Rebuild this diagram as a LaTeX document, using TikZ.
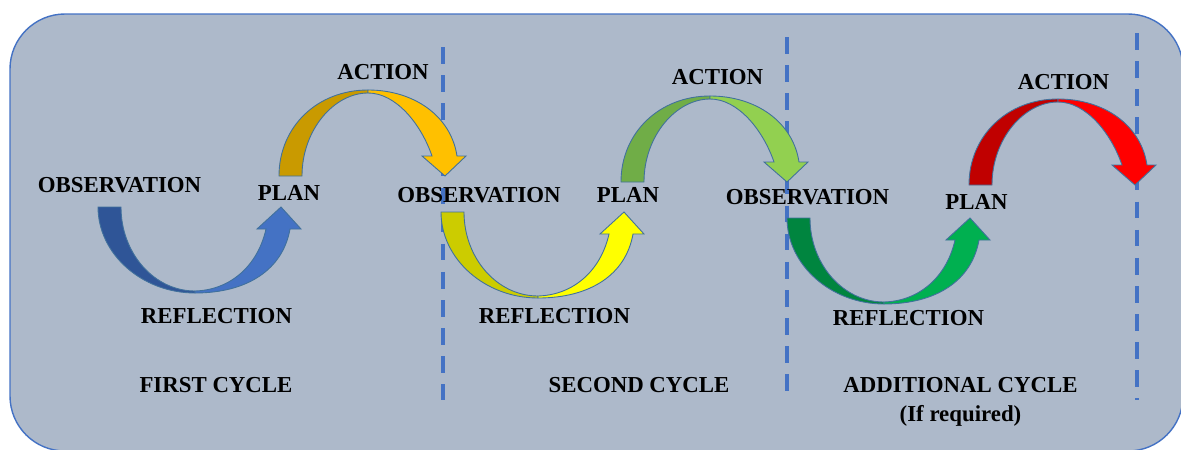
\documentclass[tikz,border=0pt]{standalone}
\usepackage{fontspec}
\setmainfont{Liberation Serif}
\usepackage{xcolor}
\usepackage{tikz}
\usetikzlibrary{positioning}

\definecolor{panel}{HTML}{ADB9CA}
\definecolor{rimblue}{HTML}{4472C4}
\definecolor{arrowedge}{HTML}{41719C}
\definecolor{blueD}{HTML}{2F5597}
\definecolor{blueL}{HTML}{4472C4}
\definecolor{orangeD}{HTML}{C99A00}
\definecolor{orangeL}{HTML}{FFC000}
\definecolor{yellowD}{HTML}{CCCC00}
\definecolor{yellowL}{HTML}{FFFF00}
\definecolor{lgreenD}{HTML}{70AD47}
\definecolor{lgreenL}{HTML}{92D050}
\definecolor{greenD}{HTML}{00853F}
\definecolor{greenL}{HTML}{00B050}
\definecolor{redD}{HTML}{C00000}
\definecolor{redL}{HTML}{FF0000}

\begin{document}
\begin{tikzpicture}[
    x=0.02cm, y=-0.02cm,
    lbl/.style={font=\bfseries\fontsize{13}{15}\selectfont, inner sep=1pt},
    rim/.style={draw=rimblue, line width=0.8pt, fill=panel, rounded corners=1.1cm},
    divider/.style={draw=rimblue, line width=2.1pt, dash pattern=on 9.5pt off 6.5pt},
    arrline/.style={draw=arrowedge, line width=0.5pt},
    pics/lowarrow/.style 2 args={code={
        \filldraw[fill=#1, arrline] (0,0) .. controls (0,47) and (44,86) .. (97,86) -- (97,84) .. controls (56,84) and (23,46) .. (23,0) -- cycle;
        \filldraw[fill=#2, arrline] (97,86) .. controls (150,86) and (185,62) .. (192,22) -- (203,22) -- (183,0) -- (159,22) -- (168,22) .. controls (160,58) and (133,83) .. (97,84) -- cycle;
    }},
    pics/uparrow/.style 2 args={code={
        \filldraw[fill=#1, arrline] (0,0) .. controls (0,-49) and (38,-86) .. (89,-86) -- (89,-83) .. controls (55,-83) and (23,-46) .. (23,0) -- cycle;
        \filldraw[fill=#2, arrline] (89,-86) .. controls (135,-86) and (172,-60) .. (178,-20) -- (187,-20) -- (166,0) -- (143,-20) -- (153,-20) .. controls (142,-52) and (117,-83) .. (89,-83) -- cycle;
    }},
]
\useasboundingbox (0,0) rectangle (1181,450);
\draw[rim] (10,14) rectangle (1183,451);

% cycle dividers
\draw[divider] (443,47) -- (443,400);
\draw[divider] (787,37) -- (787,402);
\draw[divider] (1137,33) -- (1137,400);

% arrows
\pic at (98,207) {lowarrow={blueD}{blueL}};
\pic at (279,176) {uparrow={orangeD}{orangeL}};
\pic at (441,212) {lowarrow={yellowD}{yellowL}};
\pic at (621,182) {uparrow={lgreenD}{lgreenL}};
\pic at (787,218) {lowarrow={greenD}{greenL}};
\pic at (969,185) {uparrow={redD}{redL}};

% first cycle
\node[lbl] (obsA) at (119.5,185) {OBSERVATION};
\node[lbl] (planA) at (289,193) {PLAN};
\node[lbl] (actA) at (383,72) {ACTION};
\node[lbl] (refA) at (216.5,316) {REFLECTION};
\node[lbl] (cycA) at (216,385) {FIRST CYCLE};

% second cycle
\node[lbl] (obsB) at (479,195) {OBSERVATION};
\node[lbl] (planB) at (628,195) {PLAN};
\node[lbl] (actB) at (717.5,77) {ACTION};
\node[lbl] (refB) at (554.5,316) {REFLECTION};
\node[lbl] (cycB) at (639,385) {SECOND CYCLE};

% additional cycle
\node[lbl] (obsC) at (807.5,197) {OBSERVATION};
\node[lbl] (planC) at (976.5,202) {PLAN};
\node[lbl] (actC) at (1063.5,82) {ACTION};
\node[lbl] (refC) at (908.5,318) {REFLECTION};
\node[lbl] (cycC) at (960.5,385) {ADDITIONAL CYCLE};
\node[lbl, below=0.18cm of cycC] (ifreq) {(If required)};
\end{tikzpicture}
\end{document}
